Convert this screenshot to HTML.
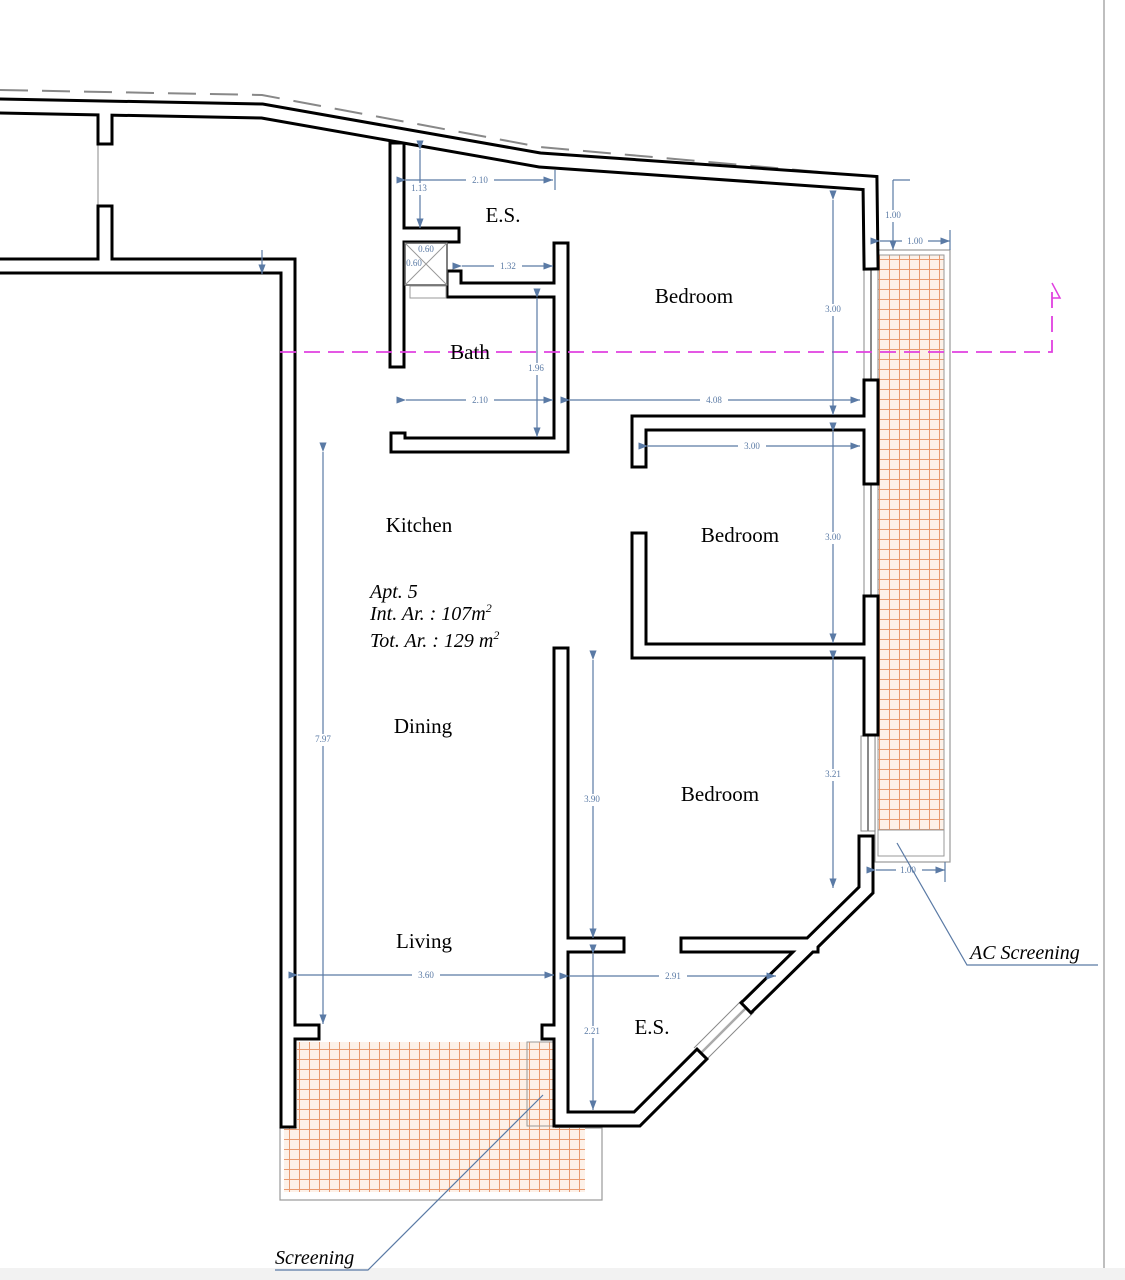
<!DOCTYPE html>
<html><head><meta charset="utf-8"><style>
html,body{margin:0;padding:0;background:#fff;}
svg{display:block;}
.lbl{font-family:"Liberation Serif",serif;font-size:21px;fill:#000;text-anchor:middle;}
.it{font-family:"Liberation Serif",serif;font-style:italic;font-size:20px;fill:#000;}
.d{font-family:"Liberation Serif",serif;font-size:9px;fill:#5a7aa5;text-anchor:middle;dominant-baseline:middle;}
.dl{stroke:#5a7aa5;stroke-width:1.2;fill:none;}
</style></head><body>
<svg width="1125" height="1280" viewBox="0 0 1125 1280" xmlns="http://www.w3.org/2000/svg">
<defs>
<pattern id="tile" width="10" height="10" patternUnits="userSpaceOnUse">
<rect width="10" height="10" fill="#fdf1e8"/>
<path d="M0 9.5H10M9.5 0V10" stroke="#e89a70" stroke-width="1"/>
</pattern>
<marker id="ar" markerWidth="8" markerHeight="6" refX="8" refY="3" orient="auto"><path d="M0 0L8 3L0 6z" fill="#5a7aa5"/></marker>
</defs>
<rect width="1125" height="1280" fill="#fff"/>
<rect x="0" y="1268" width="1125" height="12" fill="#f2f2f2"/>
<line x1="1104" y1="0" x2="1104" y2="1268" stroke="#aaa" stroke-width="1.5"/>

<!-- balconies -->
<rect x="280" y="1128" width="322" height="72" fill="none" stroke="#999" stroke-width="1.2"/>
<path d="M297 1042H555V1128H585V1192H284V1128H297Z" fill="url(#tile)"/>
<rect x="527" y="1042" width="28" height="84" fill="none" stroke="#999" stroke-width="1"/>
<rect x="875" y="250" width="75" height="612" fill="none" stroke="#999" stroke-width="1.2"/>
<rect x="878" y="255" width="66" height="575" fill="url(#tile)" stroke="#999" stroke-width="1"/>
<rect x="878" y="830" width="66" height="26" fill="none" stroke="#999" stroke-width="1"/>

<!-- dashed top boundary -->
<polyline points="0,90 262,95 540,147 865,176" fill="none" stroke="#888" stroke-width="2" stroke-dasharray="28,14"/>

<!-- windows -->
<g stroke="#888" stroke-width="1" fill="#fff">
<line x1="98" y1="140" x2="98" y2="210"/>
<rect x="864" y="268" width="14" height="112"/><line x1="871" y1="268" x2="871" y2="380" stroke-width="2"/>
<rect x="864" y="483" width="14" height="112"/><line x1="871" y1="483" x2="871" y2="595" stroke-width="2"/>
<rect x="861" y="736" width="14" height="95"/><line x1="868" y1="736" x2="868" y2="831" stroke-width="2"/>
</g>
<g stroke="#888" fill="none">
<line x1="754" y1="1012" x2="706" y2="1060" stroke-width="1"/>
<line x1="742" y1="1000" x2="694" y2="1048" stroke-width="1"/>
<line x1="748" y1="1006" x2="700" y2="1054" stroke-width="2.5" stroke="#aaa"/>
</g>

<!-- walls -->
<g fill="none" stroke-linecap="square" stroke-linejoin="miter">
<g stroke="#000" stroke-width="17">
<polyline points="0,106 262,111 540,160 870,183 871,262"/>
<polyline points="105,110 105,137"/>
<polyline points="105,213 105,266"/>
<polyline points="0,266 288,266 288,1120"/>
<polyline points="288,1032 312,1032"/>
<polyline points="397,150 397,360"/>
<polyline points="397,235 452,235"/>
<polyline points="454,278 454,290 561,290"/>
<polyline points="561,250 561,445 398,445 398,440"/>
<polyline points="871,387 871,477"/>
<polyline points="871,603 871,728"/>
<polyline points="639,460 639,423 869,423"/>
<polyline points="639,540 639,651 869,651"/>
<polyline points="561,655 561,1119 637,1119 697,1059"/>
<polyline points="751,1003 866,890 866,843"/>
<polyline points="561,945 617,945"/>
<polyline points="688,945 811,945"/>
<polyline points="561,1032 549,1032"/>
</g>
<g stroke="#fff" stroke-width="11">
<polyline points="0,106 262,111 540,160 870,183 871,262"/>
<polyline points="105,110 105,137"/>
<polyline points="105,213 105,266"/>
<polyline points="0,266 288,266 288,1120"/>
<polyline points="288,1032 312,1032"/>
<polyline points="397,150 397,360"/>
<polyline points="397,235 452,235"/>
<polyline points="454,278 454,290 561,290"/>
<polyline points="561,250 561,445 398,445 398,440"/>
<polyline points="871,387 871,477"/>
<polyline points="871,603 871,728"/>
<polyline points="639,460 639,423 869,423"/>
<polyline points="639,540 639,651 869,651"/>
<polyline points="561,655 561,1119 637,1119 697,1059"/>
<polyline points="751,1003 866,890 866,843"/>
<polyline points="561,945 617,945"/>
<polyline points="688,945 811,945"/>
<polyline points="561,1032 549,1032"/>
</g>
</g>
<!-- shaft -->
<rect x="405" y="243" width="42" height="42" fill="#fff" stroke="#555" stroke-width="1.5"/>
<path d="M405 243L447 285M447 243L405 285" stroke="#999" stroke-width="1"/>
<rect x="410" y="286" width="36" height="12" fill="#fff" stroke="#999" stroke-width="1"/>

<!-- section line -->
<polyline points="280,352 1052,352 1052,285" fill="none" stroke="#e040e0" stroke-width="1.8" stroke-dasharray="16,8"/>
<path d="M1052 283L1060 298L1052 298" fill="none" stroke="#e040e0" stroke-width="1.5"/>

<!-- dimensions -->
<g class="dl">
<line x1="406" y1="180" x2="553" y2="180" marker-start="url(#ar)" marker-end="url(#ar)"/>
<line x1="420" y1="150" x2="420" y2="228" marker-start="url(#ar)" marker-end="url(#ar)"/>
<line x1="462" y1="266" x2="553" y2="266" marker-start="url(#ar)" marker-end="url(#ar)"/>
<line x1="537" y1="298" x2="537" y2="437" marker-start="url(#ar)" marker-end="url(#ar)"/>
<line x1="406" y1="400" x2="553" y2="400" marker-start="url(#ar)" marker-end="url(#ar)"/>
<line x1="570" y1="400" x2="860" y2="400" marker-start="url(#ar)" marker-end="url(#ar)"/>
<line x1="833" y1="200" x2="833" y2="415" marker-start="url(#ar)" marker-end="url(#ar)"/>
<line x1="893" y1="180" x2="893" y2="250" marker-end="url(#ar)"/>
<line x1="880" y1="241" x2="950" y2="241" marker-start="url(#ar)" marker-end="url(#ar)"/>
<line x1="648" y1="446" x2="860" y2="446" marker-start="url(#ar)" marker-end="url(#ar)"/>
<line x1="833" y1="432" x2="833" y2="643" marker-start="url(#ar)" marker-end="url(#ar)"/>
<line x1="833" y1="660" x2="833" y2="888" marker-start="url(#ar)" marker-end="url(#ar)"/>
<line x1="876" y1="870" x2="945" y2="870" marker-start="url(#ar)" marker-end="url(#ar)"/>
<line x1="323" y1="452" x2="323" y2="1024" marker-start="url(#ar)" marker-end="url(#ar)"/>
<line x1="298" y1="975" x2="554" y2="975" marker-start="url(#ar)" marker-end="url(#ar)"/>
<line x1="593" y1="660" x2="593" y2="938" marker-start="url(#ar)" marker-end="url(#ar)"/>
<line x1="569" y1="976" x2="776" y2="976" marker-start="url(#ar)" marker-end="url(#ar)"/>
<line x1="593" y1="954" x2="593" y2="1110" marker-start="url(#ar)" marker-end="url(#ar)"/>
<line x1="262" y1="250" x2="262" y2="274" marker-end="url(#ar)"/>
<line x1="893" y1="180" x2="910" y2="180"/>
<line x1="950" y1="230" x2="950" y2="250"/>
<line x1="945" y1="862" x2="945" y2="882"/>
<line x1="555" y1="170" x2="555" y2="190"/>
</g>
<g class="d">
<rect x="466" y="174" width="28" height="12" fill="#fff" stroke="none"/><text x="480" y="181">2.10</text>
<rect x="408" y="183" width="22" height="12" fill="#fff"/><text x="419" y="189">1.13</text>
<text x="426" y="250">0.60</text><text x="414" y="264">0.60</text>
<rect x="494" y="260" width="28" height="12" fill="#fff"/><text x="508" y="267">1.32</text>
<rect x="525" y="363" width="24" height="12" fill="#fff"/><text x="536" y="369">1.96</text>
<rect x="466" y="394" width="28" height="12" fill="#fff"/><text x="480" y="401">2.10</text>
<rect x="700" y="394" width="28" height="12" fill="#fff"/><text x="714" y="401">4.08</text>
<rect x="821" y="304" width="24" height="12" fill="#fff"/><text x="833" y="310">3.00</text>
<rect x="882" y="210" width="24" height="12" fill="#fff"/><text x="893" y="216">1.00</text>
<rect x="902" y="235" width="26" height="12" fill="#fff"/><text x="915" y="242">1.00</text>
<rect x="738" y="440" width="28" height="12" fill="#fff"/><text x="752" y="447">3.00</text>
<rect x="821" y="532" width="24" height="12" fill="#fff"/><text x="833" y="538">3.00</text>
<rect x="821" y="769" width="24" height="12" fill="#fff"/><text x="833" y="775">3.21</text>
<rect x="896" y="864" width="26" height="12" fill="#fff"/><text x="908" y="871">1.00</text>
<rect x="311" y="734" width="24" height="12" fill="#fff"/><text x="323" y="740">7.97</text>
<rect x="412" y="969" width="28" height="12" fill="#fff"/><text x="426" y="976">3.60</text>
<rect x="580" y="794" width="24" height="12" fill="#fff"/><text x="592" y="800">3.90</text>
<rect x="659" y="970" width="28" height="12" fill="#fff"/><text x="673" y="977">2.91</text>
<rect x="580" y="1026" width="24" height="12" fill="#fff"/><text x="592" y="1032">2.21</text>
</g>

<!-- labels -->
<text class="lbl" x="503" y="222">E.S.</text>
<text class="lbl" x="694" y="303">Bedroom</text>
<text class="lbl" x="470" y="359">Bath</text>
<text class="lbl" x="419" y="532">Kitchen</text>
<text class="lbl" x="740" y="542">Bedroom</text>
<text class="it" x="370" y="598">Apt. 5</text>
<text class="it" x="370" y="620">Int. Ar. : 107m<tspan font-size="12" dy="-8">2</tspan></text>
<text class="it" x="370" y="647">Tot. Ar. : 129 m<tspan font-size="12" dy="-8">2</tspan></text>
<text class="lbl" x="423" y="733">Dining</text>
<text class="lbl" x="720" y="801">Bedroom</text>
<text class="lbl" x="424" y="948">Living</text>
<text class="lbl" x="652" y="1034">E.S.</text>

<text class="it" x="970" y="959">AC Screening</text>
<polyline points="897,843 967,965 1098,965" fill="none" stroke="#5a7aa5" stroke-width="1.2"/>
<text class="it" x="275" y="1264">Screening</text>
<polyline points="543,1095 368,1270 275,1270" fill="none" stroke="#5a7aa5" stroke-width="1.2"/>
</svg>
</body></html>
